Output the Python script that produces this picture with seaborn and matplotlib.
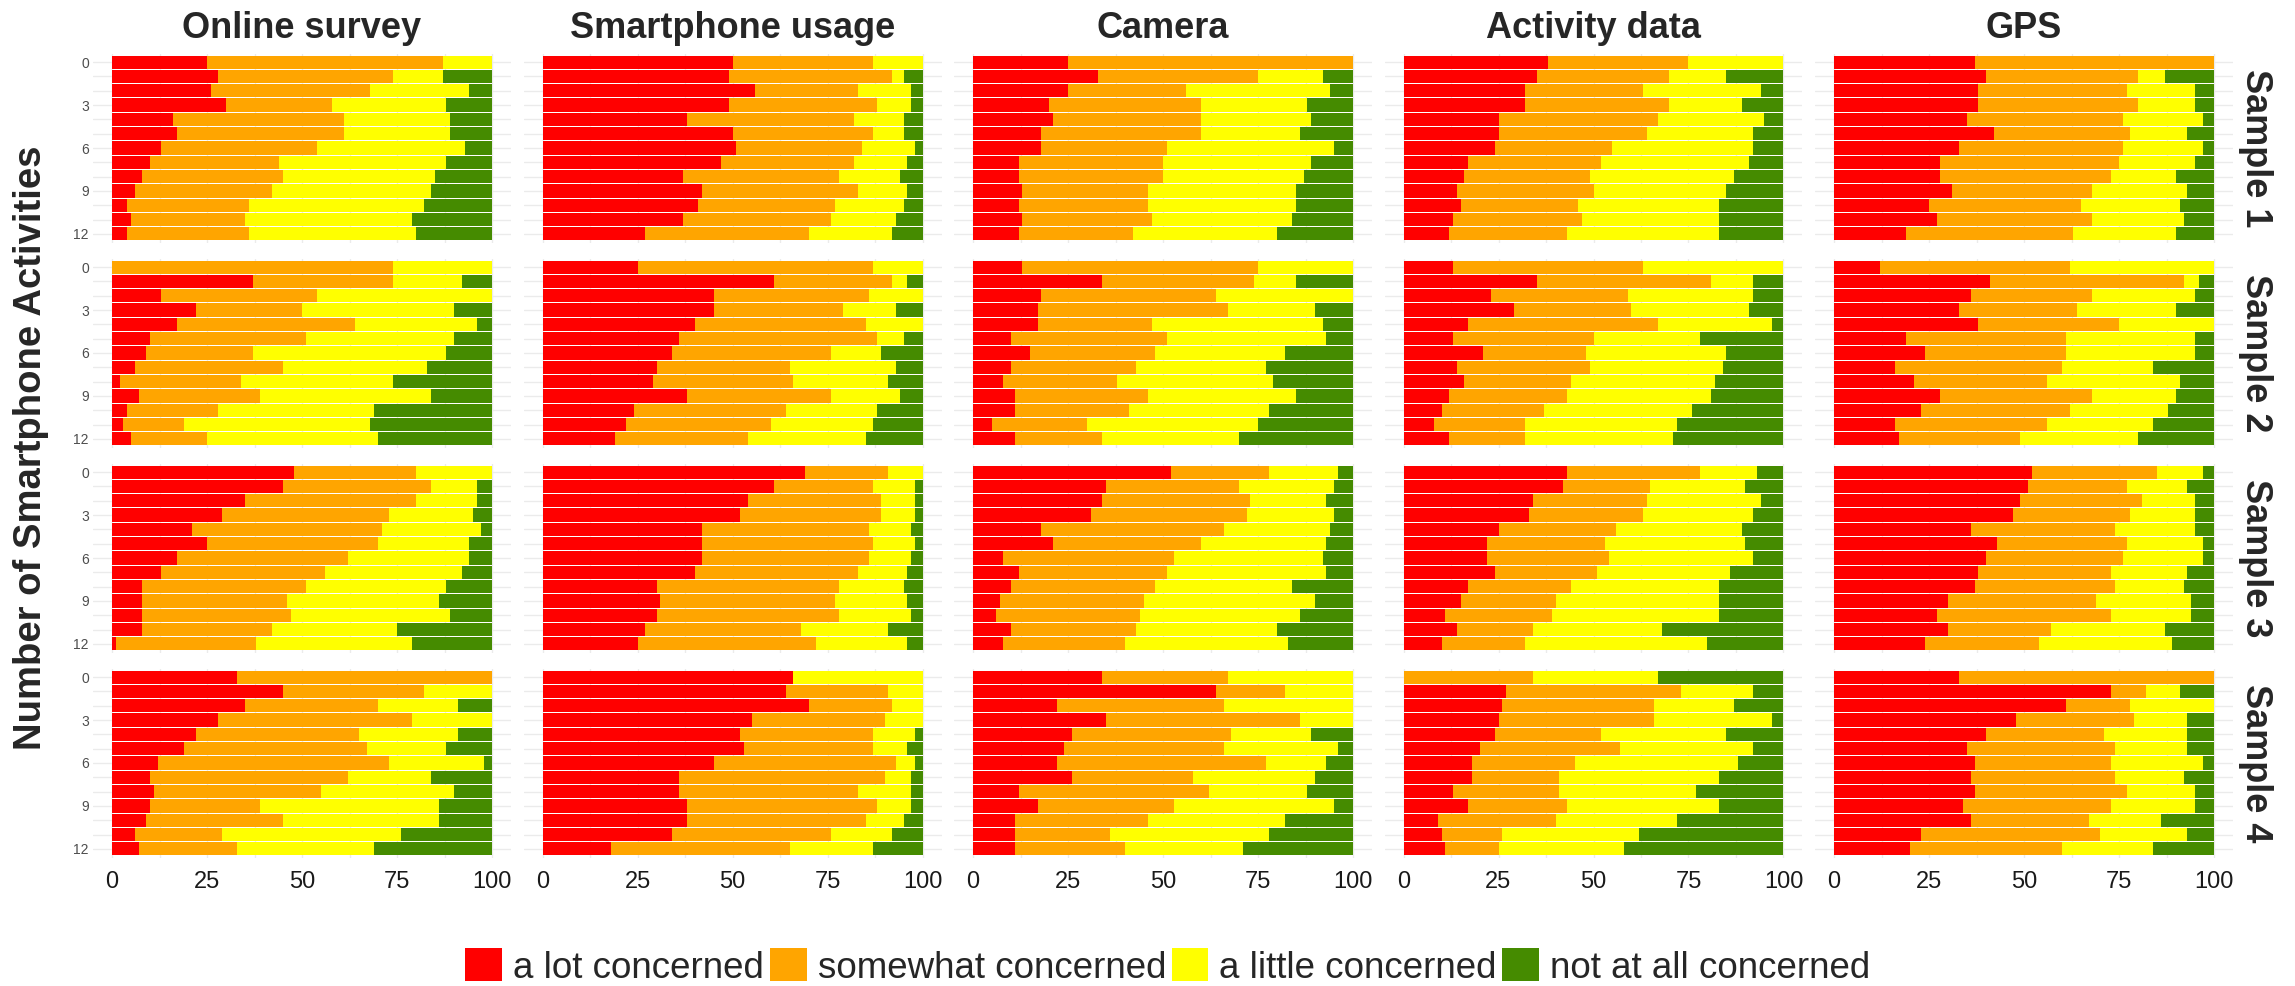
import numpy as np
import pandas as pd
import matplotlib
matplotlib.use("Agg")
import matplotlib.pyplot as plt
from matplotlib.patches import Patch
import seaborn as sns

concern = ["a lot concerned", "somewhat concerned", "a little concerned", "not at all concerned"]
concern_colors = ["#FF0000", "#FFA500", "#FFFF00", "#458B00"]
devices = ["Online survey", "Smartphone usage", "Camera", "Activity data", "GPS"]
samples = ["Sample 1", "Sample 2", "Sample 3", "Sample 4"]
n_activities = list(range(13))
y_tick_labels = ["0", "3", "6", "9", "12"]
x_ticks = [0, 25, 50, 75, 100]

# rows = number of smartphone activities 0..12
# values = % a lot / somewhat / a little / not at all concerned
online_s1 = [[25, 62, 13, 0], [28, 46, 13, 13], [26, 42, 26, 6], [30, 28, 30, 12],
             [16, 45, 28, 11], [17, 44, 28, 11], [13, 41, 39, 7], [10, 34, 44, 12],
             [8, 37, 40, 15], [6, 36, 42, 16], [4, 32, 46, 18], [5, 30, 44, 21], [4, 32, 44, 20]]
smartphone_s1 = [[50, 37, 13, 0], [49, 43, 3, 5], [56, 27, 14, 3], [49, 39, 9, 3],
                 [38, 44, 13, 5], [50, 37, 8, 5], [51, 33, 14, 2], [47, 35, 14, 4],
                 [37, 41, 16, 6], [42, 41, 13, 4], [41, 36, 18, 5], [37, 39, 17, 7], [27, 43, 22, 8]]
camera_s1 = [[25, 75, 0, 0], [33, 42, 17, 8], [25, 31, 38, 6], [20, 40, 28, 12],
             [21, 39, 29, 11], [18, 42, 26, 14], [18, 33, 44, 5], [12, 38, 39, 11],
             [12, 38, 37, 13], [13, 33, 39, 15], [12, 34, 39, 15], [13, 34, 37, 16], [12, 30, 38, 20]]
activity_s1 = [[38, 37, 25, 0], [35, 35, 15, 15], [32, 31, 31, 6], [32, 38, 19, 11],
               [25, 42, 28, 5], [25, 39, 28, 8], [24, 31, 37, 8], [17, 35, 39, 9],
               [16, 33, 38, 13], [14, 36, 35, 15], [15, 31, 37, 17], [13, 34, 36, 17], [12, 31, 40, 17]]
gps_s1 = [[37, 63, 0, 0], [40, 40, 7, 13], [38, 39, 18, 5], [38, 42, 15, 5],
          [35, 41, 21, 3], [42, 36, 15, 7], [33, 43, 21, 3], [28, 47, 20, 5],
          [28, 45, 17, 10], [31, 37, 25, 7], [25, 40, 26, 9], [27, 41, 24, 8], [19, 44, 27, 10]]

online_s2 = [[0, 74, 26, 0], [37, 37, 18, 8], [13, 41, 46, 0], [22, 28, 40, 10],
             [17, 47, 32, 4], [10, 41, 39, 10], [9, 28, 51, 12], [6, 39, 38, 17],
             [2, 32, 40, 26], [7, 32, 45, 16], [4, 24, 41, 31], [3, 16, 49, 32], [5, 20, 45, 30]]
smartphone_s2 = [[25, 62, 13, 0], [61, 31, 4, 4], [45, 41, 14, 0], [45, 34, 14, 7],
                 [40, 45, 15, 0], [36, 52, 7, 5], [34, 42, 13, 11], [30, 35, 28, 7],
                 [29, 37, 25, 9], [38, 38, 18, 6], [24, 40, 24, 12], [22, 38, 27, 13], [19, 35, 31, 15]]
camera_s2 = [[13, 62, 25, 0], [34, 40, 11, 15], [18, 46, 36, 0], [17, 50, 23, 10],
             [17, 30, 45, 8], [10, 41, 42, 7], [15, 33, 34, 18], [10, 33, 34, 23],
             [8, 30, 41, 21], [11, 35, 39, 15], [11, 30, 37, 22], [5, 25, 45, 25], [11, 23, 36, 30]]
activity_s2 = [[13, 50, 37, 0], [35, 46, 11, 8], [23, 36, 33, 8], [29, 31, 31, 9],
               [17, 50, 30, 3], [13, 37, 28, 22], [21, 27, 37, 15], [14, 35, 35, 16],
               [16, 28, 38, 18], [12, 31, 38, 19], [10, 27, 39, 24], [8, 24, 40, 28], [12, 20, 39, 29]]
gps_s2 = [[12, 50, 38, 0], [41, 51, 4, 4], [36, 32, 27, 5], [33, 31, 26, 10],
          [38, 37, 25, 0], [19, 42, 34, 5], [24, 37, 34, 5], [16, 44, 24, 16],
          [21, 35, 35, 9], [28, 40, 22, 10], [23, 39, 26, 12], [16, 40, 28, 16], [17, 32, 31, 20]]

online_s3 = [[48, 32, 20, 0], [45, 39, 12, 4], [35, 45, 16, 4], [29, 44, 22, 5],
             [21, 50, 26, 3], [25, 45, 24, 6], [17, 45, 32, 6], [13, 43, 36, 8],
             [8, 43, 37, 12], [8, 38, 40, 14], [8, 39, 42, 11], [8, 34, 33, 25], [1, 37, 41, 21]]
smartphone_s3 = [[69, 22, 9, 0], [61, 26, 11, 2], [54, 35, 9, 2], [52, 37, 9, 2],
                 [42, 44, 11, 3], [42, 45, 11, 2], [42, 44, 11, 3], [40, 43, 13, 4],
                 [30, 48, 17, 5], [31, 46, 19, 4], [30, 48, 19, 3], [27, 41, 23, 9], [25, 47, 24, 4]]
camera_s3 = [[52, 26, 18, 4], [35, 35, 25, 5], [34, 39, 20, 7], [31, 41, 23, 5],
             [18, 48, 28, 6], [21, 39, 33, 7], [8, 45, 39, 8], [12, 39, 42, 7],
             [10, 38, 36, 16], [7, 38, 45, 10], [6, 38, 42, 14], [10, 33, 37, 20], [8, 32, 43, 17]]
activity_s3 = [[43, 35, 15, 7], [42, 23, 25, 10], [34, 30, 30, 6], [33, 30, 29, 8],
               [25, 31, 33, 11], [22, 31, 37, 10], [22, 32, 38, 8], [24, 27, 35, 14],
               [17, 27, 39, 17], [15, 25, 43, 17], [11, 28, 44, 17], [14, 20, 34, 32], [10, 22, 48, 20]]
gps_s3 = [[52, 33, 12, 3], [51, 26, 16, 7], [49, 32, 14, 5], [47, 31, 17, 5],
          [36, 38, 21, 5], [43, 34, 20, 3], [40, 36, 21, 3], [38, 35, 20, 7],
          [37, 37, 18, 8], [30, 39, 25, 6], [27, 46, 21, 6], [30, 27, 30, 13], [24, 30, 35, 11]]

online_s4 = [[33, 67, 0, 0], [45, 37, 18, 0], [35, 35, 21, 9], [28, 51, 21, 0],
             [22, 43, 26, 9], [19, 48, 21, 12], [12, 61, 25, 2], [10, 52, 22, 16],
             [11, 44, 35, 10], [10, 29, 47, 14], [9, 36, 41, 14], [6, 23, 47, 24], [7, 26, 36, 31]]
smartphone_s4 = [[66, 0, 34, 0], [64, 27, 9, 0], [70, 22, 8, 0], [55, 35, 10, 0],
                 [52, 35, 11, 2], [53, 34, 9, 4], [45, 48, 5, 2], [36, 54, 7, 3],
                 [36, 47, 14, 3], [38, 50, 9, 3], [38, 47, 10, 5], [34, 42, 16, 8], [18, 47, 22, 13]]
camera_s4 = [[34, 33, 33, 0], [64, 18, 18, 0], [22, 44, 34, 0], [35, 51, 14, 0],
             [26, 42, 21, 11], [24, 42, 30, 4], [22, 55, 16, 7], [26, 32, 32, 10],
             [12, 50, 26, 12], [17, 36, 42, 5], [11, 35, 36, 18], [11, 25, 42, 22], [11, 29, 31, 29]]
activity_s4 = [[0, 34, 33, 33], [27, 46, 19, 8], [26, 40, 21, 13], [25, 41, 31, 3],
               [24, 28, 33, 15], [20, 37, 35, 8], [18, 27, 43, 12], [18, 23, 42, 17],
               [13, 28, 36, 23], [17, 26, 40, 17], [9, 31, 32, 28], [10, 16, 36, 38], [11, 14, 33, 42]]
gps_s4 = [[33, 67, 0, 0], [73, 9, 9, 9], [61, 17, 22, 0], [48, 31, 14, 7],
          [40, 31, 22, 7], [35, 39, 19, 7], [37, 36, 24, 3], [36, 38, 18, 8],
          [37, 40, 18, 5], [34, 39, 22, 5], [36, 31, 19, 14], [23, 47, 23, 7], [20, 40, 24, 16]]

panel_data = {
    "Sample 1": [online_s1, smartphone_s1, camera_s1, activity_s1, gps_s1],
    "Sample 2": [online_s2, smartphone_s2, camera_s2, activity_s2, gps_s2],
    "Sample 3": [online_s3, smartphone_s3, camera_s3, activity_s3, gps_s3],
    "Sample 4": [online_s4, smartphone_s4, camera_s4, activity_s4, gps_s4],
}

# long table
records = []
for s in samples:
    for d, rows in zip(devices, panel_data[s]):
        for lvl, vals in zip(n_activities, rows):
            rec = {"sample": s, "device": d, "activities": lvl}
            rec.update(dict(zip(concern, vals)))
            records.append(rec)
df = pd.DataFrame(records)

sns.set_style("white")
plt.rcParams["font.family"] = ["Liberation Sans", "DejaVu Sans"]

W, H = 2295, 986
fig = plt.figure(figsize=(W / 100, H / 100), dpi=100)

ax_left0, ax_dx, ax_w = 93, 430.5, 418
ax_top0, ax_dy, ax_h = 53.5, 205, 189

for j, s in enumerate(samples):
    for i, d in enumerate(devices):
        left = ax_left0 + ax_dx * i
        top = ax_top0 + ax_dy * j
        ax = fig.add_axes([left / W, 1 - (top + ax_h) / H, ax_w / W, ax_h / H])
        sub = df[(df["sample"] == s) & (df["device"] == d)].sort_values("activities")
        cum = sub[concern].cumsum(axis=1)
        # draw cumulative layers, widest first
        for k in reversed(range(4)):
            sns.barplot(x=cum[concern[k]].values, y=sub["activities"].values, orient="h",
                        order=n_activities, color=concern_colors[k], saturation=1,
                        width=0.92, errorbar=None, linewidth=0, ax=ax)
        ax.set_xlim(-5, 105)
        ax.set_ylim(12.6, -0.6)
        ax.set_xlabel("")
        ax.set_ylabel("")
        ax.set_axisbelow(True)
        ax.set_xticks(x_ticks)
        ax.set_xticks(np.arange(12.5, 100, 25), minor=True)
        ax.set_yticks(n_activities)
        ax.grid(axis="both", which="both", color="#EBEBEB", linewidth=1)
        for sp in ax.spines.values():
            sp.set_visible(False)
        ax.tick_params(axis="both", which="both", length=0)
        if i == 0:
            ax.set_yticklabels([str(v) if str(v) in y_tick_labels else "" for v in n_activities],
                               fontsize=10, color="#4D4D4D")
            ax.tick_params(axis="y", pad=3)
        else:
            ax.set_yticklabels([])
        if j == len(samples) - 1:
            ax.set_xticklabels([str(v) for v in x_ticks], fontsize=17, color="#1A1A1A")
            ax.tick_params(axis="x", pad=10)
        else:
            ax.set_xticklabels([])
        if j == 0:
            fig.text((left + ax_w / 2) / W, 1 - 28 / H, d, ha="center", va="center",
                     fontsize=26, fontweight="bold")
        if i == len(devices) - 1:
            fig.text(2256 / W, 1 - (top + ax_h / 2) / H, s, ha="center", va="center",
                     rotation=270, fontsize=26, fontweight="bold")

fig.text(31 / W, 1 - 448 / H, "Number of Smartphone Activities", rotation=90,
         ha="center", va="center", fontsize=27.5, fontweight="bold")

handles = [Patch(facecolor=c, edgecolor="none", label=l) for c, l in zip(concern_colors, concern)]
fig.legend(handles=handles, loc="center", bbox_to_anchor=(1168 / W, 1 - 967 / H), ncol=4,
           frameon=False, fontsize=26.5, handlelength=1.0, handleheight=1.0,
           handletextpad=0.3, columnspacing=0.15, borderaxespad=0, borderpad=0)

fig.savefig("out.png", dpi=100, facecolor="white")
